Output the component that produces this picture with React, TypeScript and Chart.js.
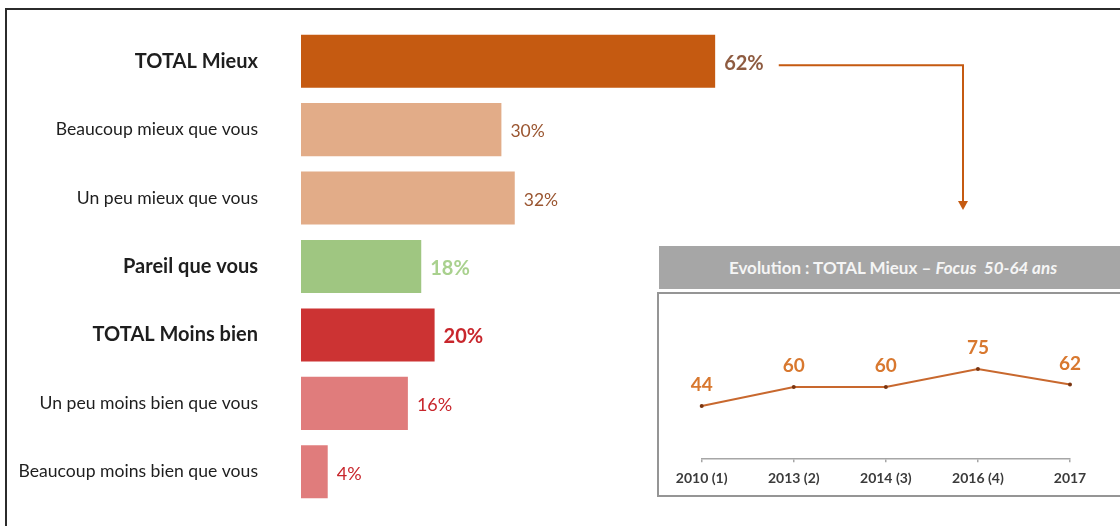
import React, { useEffect, useRef } from "react";
import { Chart, registerables } from "chart.js";

Chart.register(...registerables);

// ---------- Data ----------
const categories = [
  "TOTAL Mieux",
  "Beaucoup mieux que vous",
  "Un peu mieux que vous",
  "Pareil que vous",
  "TOTAL Moins bien",
  "Un peu moins bien que vous",
  "Beaucoup moins bien que vous",
];
const values = [62, 30, 32, 18, 20, 16, 4];
const totalRows = [true, false, false, true, true, false, false];

const years = ["2010 (1)", "2013 (2)", "2014 (3)", "2016 (4)", "2017"];
const evolution = [44, 60, 60, 75, 62];

const headerMain = "Evolution : TOTAL Mieux – ";
const headerItalic = "Focus  50-64 ans";

// ---------- Styles ----------
const FONT = "Lato, 'Noto Sans', sans-serif";
const barColors = ["#C55A11", "#E2AC88", "#E2AC88", "#9FC681", "#CC3333", "#E07C7C", "#E07C7C"];
const valueLabelColors = ["#8E5B40", "#9A5530", "#9A5530", "#A9D18E", "#C8262C", "#C8262C", "#C8262C"];
const valueLabelSizes = [20, 17.5, 17.5, 20, 20, 18, 18];
const ORANGE = "#C55A11";

const barLabelsPlugin = {
  id: "barLabels",
  afterDatasetsDraw(chart: any) {
    const ctx = chart.ctx;
    const meta = chart.getDatasetMeta(0);
    let firstEnd = 0;
    let firstY = 0;
    meta.data.forEach((bar: any, i: number) => {
      ctx.save();
      ctx.font = `${totalRows[i] ? "bold " : ""}${valueLabelSizes[i]}px ${FONT}`;
      ctx.fillStyle = valueLabelColors[i];
      ctx.textAlign = "left";
      ctx.textBaseline = "middle";
      const txt = values[i] + "%";
      ctx.fillText(txt, bar.x + 9, bar.y + 2);
      if (i === 0) {
        firstEnd = bar.x + 9 + ctx.measureText(txt).width;
        firstY = bar.y + 4;
      }
      ctx.restore();
    });
    // connector arrow towards the inset
    const x0 = firstEnd + 15;
    const xTurn = 963;
    const yTip = 210;
    ctx.save();
    ctx.strokeStyle = ORANGE;
    ctx.lineWidth = 2;
    ctx.beginPath();
    ctx.moveTo(x0, firstY);
    ctx.lineTo(xTurn, firstY);
    ctx.lineTo(xTurn, yTip - 8);
    ctx.stroke();
    ctx.fillStyle = ORANGE;
    ctx.beginPath();
    ctx.moveTo(xTurn - 5, yTip - 9);
    ctx.lineTo(xTurn + 5, yTip - 9);
    ctx.lineTo(xTurn, yTip);
    ctx.closePath();
    ctx.fill();
    ctx.restore();
  },
};

const lineLabelsPlugin = {
  id: "lineLabels",
  afterDatasetsDraw(chart: any) {
    const ctx = chart.ctx;
    const meta = chart.getDatasetMeta(0);
    ctx.save();
    ctx.font = `bold 19px ${FONT}`;
    ctx.fillStyle = "#D8782F";
    ctx.textAlign = "center";
    ctx.textBaseline = "middle";
    meta.data.forEach((pt: any, i: number) => {
      ctx.fillText(String(evolution[i]), pt.x, pt.y - 21);
    });
    ctx.restore();
  },
};

export default function App() {
  const barRef = useRef<HTMLCanvasElement>(null);
  const lineRef = useRef<HTMLCanvasElement>(null);

  useEffect(() => {
    const bar = new Chart(barRef.current!, {
      type: "bar",
      data: {
        labels: categories,
        datasets: [
          {
            data: values,
            backgroundColor: barColors,
            barPercentage: 0.776,
            categoryPercentage: 1,
          },
        ],
      },
      options: {
        indexAxis: "y",
        responsive: false,
        animation: false,
        layout: { padding: { top: 27, bottom: 20, left: 0, right: 151 } },
        scales: {
          x: { display: false, min: 0, max: 100 },
          y: {
            grid: { display: false, drawTicks: true, tickLength: 43, color: "rgba(0,0,0,0)" },
            border: { display: false },
            ticks: {
              padding: 0,
              color: "#1e1e1e",
              font: (c: any) => ({
                family: FONT,
                size: totalRows[c.index] ? 20 : 17.6,
                weight: totalRows[c.index] ? "bold" : "normal",
              }),
            },
            afterFit: (s: any) => {
              s.width = 301;
            },
          },
        },
        plugins: { legend: { display: false }, tooltip: { enabled: false } },
      } as any,
      plugins: [barLabelsPlugin],
    });

    const line = new Chart(lineRef.current!, {
      type: "line",
      data: {
        labels: years,
        datasets: [
          {
            data: evolution,
            borderColor: "#C8682E",
            borderWidth: 2,
            pointRadius: 2,
            pointBackgroundColor: "#7A3510",
            pointBorderWidth: 0,
            tension: 0,
            clip: false,
          } as any,
        ],
      },
      options: {
        responsive: false,
        animation: false,
        layout: { padding: { top: 45.3, bottom: 5.7, left: 41.7, right: 50 } },
        scales: {
          x: {
            type: "category",
            offset: false,
            grid: {
              display: true,
              drawOnChartArea: false,
              drawTicks: true,
              tickLength: 4,
              color: "#a6a6a6",
              lineWidth: 1.5,
            },
            border: { display: true, color: "#a6a6a6", width: 1.5 },
            ticks: {
              color: "#3b3b3b",
              font: { family: FONT, size: 14, weight: "bold" },
              padding: 8,
              autoSkip: false,
              maxRotation: 0,
            },
            afterFit: (s: any) => {
              s.height = 30;
            },
          },
          y: { display: false, min: 0, max: 100 },
        },
        plugins: { legend: { display: false }, tooltip: { enabled: false } },
      } as any,
      plugins: [lineLabelsPlugin],
    });

    return () => {
      bar.destroy();
      line.destroy();
    };
  }, []);

  return (
    <div
      style={{
        position: "absolute",
        left: 0,
        top: 0,
        width: 1120,
        height: 526,
        overflow: "hidden",
        background: "#fff",
      }}
    >
      <div
        style={{
          position: "absolute",
          left: 5,
          top: 8,
          width: 1300,
          height: 700,
          borderTop: "2px solid #2b2b2b",
          borderLeft: "2px solid #2b2b2b",
        }}
      />
      <canvas
        ref={barRef}
        width={1120}
        height={526}
        style={{ position: "absolute", left: 0, top: 0, width: 1120, height: 526 }}
      />
      <div
        style={{
          position: "absolute",
          left: 659,
          top: 246,
          width: 468,
          height: 43,
          background: "#A6A6A6",
          color: "#F5F5F5",
          fontFamily: FONT,
          fontSize: 17,
          fontWeight: "bold",
          lineHeight: "43px",
          textAlign: "center",
          whiteSpace: "pre",
        }}
      >
        {headerMain}
        <i>{headerItalic}</i>
      </div>
      <div
        style={{
          position: "absolute",
          left: 657,
          top: 292,
          width: 500,
          height: 205,
          boxSizing: "border-box",
          border: "2px solid #959595",
        }}
      />
      <canvas
        ref={lineRef}
        width={460}
        height={200}
        style={{ position: "absolute", left: 660, top: 294, width: 460, height: 200 }}
      />
    </div>
  );
}
